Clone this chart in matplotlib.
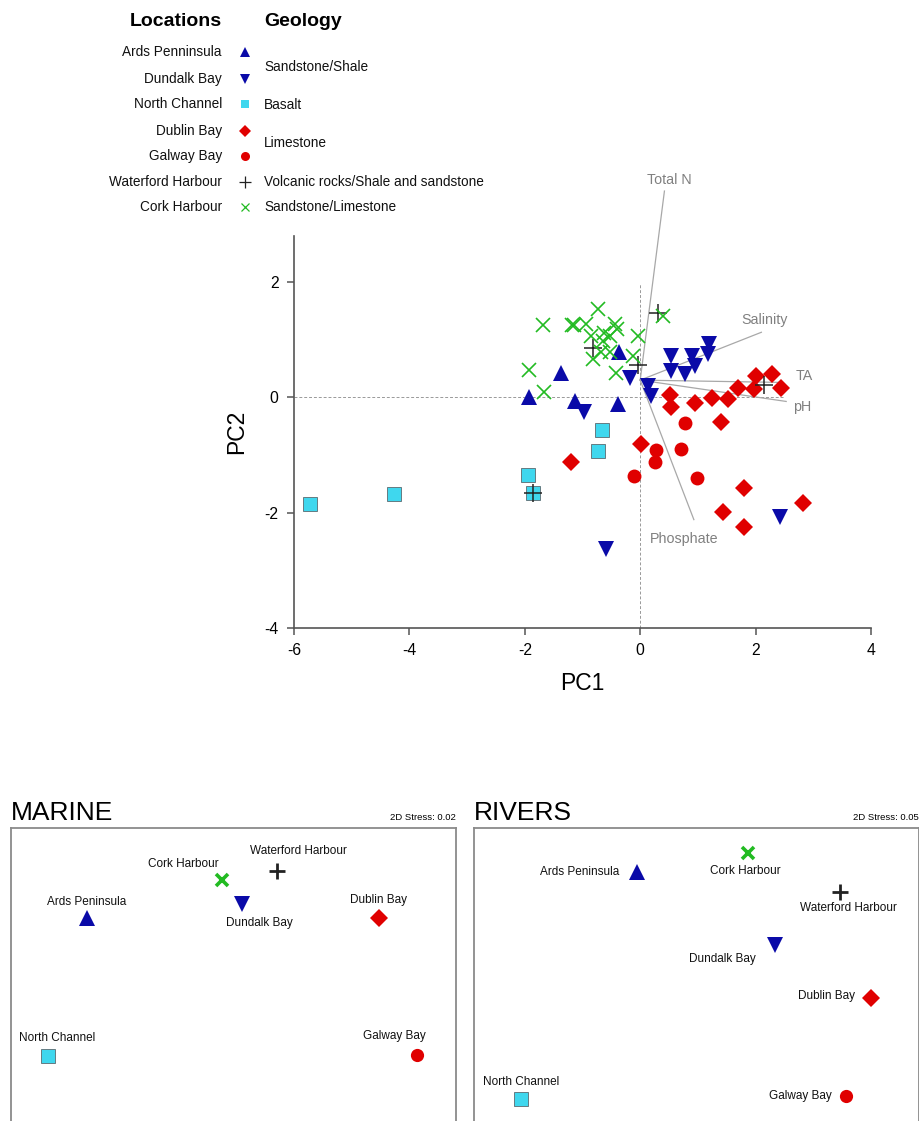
import matplotlib
matplotlib.use("Agg")
import matplotlib.pyplot as plt

plt.rcParams['font.family'] = ['Liberation Sans', 'DejaVu Sans']

# ---------------- data ----------------
locations = ["Ards Penninsula", "Dundalk Bay", "North Channel", "Dublin Bay",
             "Galway Bay", "Waterford Harbour", "Cork Harbour"]
geology = ["Sandstone/Shale", "Basalt", "Limestone",
           "Volcanic rocks/Shale and sandstone", "Sandstone/Limestone"]

# PCA scores (PC1, PC2)
ards_pc1 = [-1.92, -1.38, -1.13, -0.38, -0.36]
ards_pc2 = [0.00, 0.42, -0.06, -0.12, 0.79]

dundalk_pc1 = [-0.98, -0.17, 0.13, 0.18, 0.54, 0.53, 0.77, 0.90, 0.95, 1.20, 1.18, -0.59, 2.43]
dundalk_pc2 = [-0.26, 0.33, 0.19, 0.02, 0.72, 0.46, 0.40, 0.71, 0.54, 0.92, 0.75, -2.63, -2.08]

north_pc1 = [-5.72, -4.27, -0.66, -0.73, -1.94, -1.85]
north_pc2 = [-1.85, -1.67, -0.56, -0.93, -1.35, -1.66]

dublin_pc1 = [-1.20, 0.02, 0.51, 0.54, 0.95, 1.24, 1.53, 1.69, 1.98, 2.00, 2.29, 2.44,
              1.40, 1.80, 1.43, 1.80, 2.82]
dublin_pc2 = [-1.12, -0.80, 0.05, -0.16, -0.09, -0.01, -0.03, 0.17, 0.14, 0.37, 0.40, 0.17,
              -0.43, -1.57, -1.98, -2.24, -1.83]

galway_pc1 = [0.77, 0.28, 0.25, 0.71, -0.11, 0.99]
galway_pc2 = [-0.45, -0.92, -1.12, -0.90, -1.37, -1.40]

waterford_pc1 = [-0.82, -0.04, 0.31, 2.15, -1.85]
waterford_pc2 = [0.85, 0.57, 1.46, 0.21, -1.66]

cork_pc1 = [-1.69, -1.18, -1.15, -0.94, -0.73, -0.85, -0.62, -0.43, -0.41, -0.53, -0.65,
            -0.04, -0.82, -0.68, -0.53, -0.13, -0.42, -1.92, -1.67, 0.39]
cork_pc2 = [1.25, 1.26, 1.26, 1.27, 1.54, 1.07, 1.12, 1.27, 1.18, 1.07, 0.98,
            1.07, 0.66, 0.78, 0.78, 0.72, 0.43, 0.47, 0.09, 1.41]

# loading vectors
vec_names = ["Total N", "Salinity", "TA", "pH", "Phosphate"]
vec_origin = (0.0, 0.30)
vec_x = [0.42, 2.10, 2.45, 2.53, 0.93]
vec_y = [3.58, 1.13, 0.26, -0.07, -2.12]
vec_lab_x = [0.50, 2.15, 2.84, 2.80, 0.77]
vec_lab_y = [3.77, 1.34, 0.37, -0.16, -2.45]

# nMDS coordinates
mds_names = ["Ards Peninsula", "Dundalk Bay", "North Channel", "Dublin Bay",
             "Galway Bay", "Waterford Harbour", "Cork Harbour"]
marine_x = [-0.99, 0.06, -1.25, 0.98, 1.24, 0.29, -0.08]
marine_y = [0.51, 0.61, -0.42, 0.51, -0.41, 0.83, 0.77]
rivers_x = [-0.40, 0.53, -1.18, 1.18, 1.01, 0.97, 0.35]
rivers_y = [0.82, 0.33, -0.71, -0.03, -0.69, 0.69, 0.95]
marine_stress = 0.02
rivers_stress = 0.05

# ---------------- styles ----------------
BLUE = "#0A0AA8"
CYAN = "#3FD7EE"
RED = "#E00000"
GREEN = "#22BB22"
BLACK = "#222222"
GREY = "#8A8A8A"

styles = [  # marker, color, size(main), mew, edge
    dict(marker='^', color=BLUE, ms=12, mec=BLUE, mew=0),
    dict(marker='v', color=BLUE, ms=12, mec=BLUE, mew=0),
    dict(marker='s', color=CYAN, ms=10, mec="#5a6a70", mew=0.6),
    dict(marker='D', color=RED, ms=9, mec=RED, mew=0),
    dict(marker='o', color=RED, ms=10, mec=RED, mew=0),
    dict(marker='+', color=BLACK, ms=13, mec=BLACK, mew=1.1),
    dict(marker='x', color=GREEN, ms=10, mec=GREEN, mew=1.2),
]
series = [(ards_pc1, ards_pc2), (dundalk_pc1, dundalk_pc2), (north_pc1, north_pc2),
          (dublin_pc1, dublin_pc2), (galway_pc1, galway_pc2),
          (waterford_pc1, waterford_pc2), (cork_pc1, cork_pc2)]

W, H = 919, 1121
fig = plt.figure(figsize=(W / 100, H / 100), dpi=100)


def px_axes(x0, y0, x1, y1):
    return fig.add_axes([x0 / W, 1 - y1 / H, (x1 - x0) / W, (y1 - y0) / H])


# ---------------- legend ----------------
axl = px_axes(0, 0, 560, 230)
axl.set_xlim(0, 560)
axl.set_ylim(230, 0)
axl.axis('off')
axl.text(222, 22, "Locations", ha='right', va='center', fontsize=14, fontweight='bold')
axl.text(264, 22, "Geology", ha='left', va='center', fontsize=14, fontweight='bold')
row_y = [52, 79, 104, 131, 156, 182, 207]
leg_ms = [7.5, 7.5, 6, 6, 6.5, 8, 6]
leg_mew = [0, 0, 0, 0, 0, 0.9, 0.9]
for name, yy, st, lms, lmew in zip(locations, row_y, styles, leg_ms, leg_mew):
    axl.text(222, yy, name, ha='right', va='center', fontsize=9.8, color='#111111')
    axl.plot([245], [yy], linestyle='none', marker=st['marker'], color=st['color'],
             ms=lms, mew=lmew, mec=st['color'])
geo_y = [67, 105, 143, 182, 207]
for g, yy in zip(geology, geo_y):
    axl.text(264, yy, g, ha='left', va='center', fontsize=9.8, color='#111111')

# ---------------- PCA biplot ----------------
ax = px_axes(294, 236, 871, 628)
ax.set_xlim(-6, 4)
ax.set_ylim(-4, 2.8)
for s in ['top', 'right']:
    ax.spines[s].set_visible(False)
for s in ['left', 'bottom']:
    ax.spines[s].set_color('#555555')
    ax.spines[s].set_linewidth(1.2)
ax.set_xticks([-6, -4, -2, 0, 2, 4])
ax.set_yticks([-4, -2, 0, 2])
ax.set_xticklabels(['-6', '-4', '-2', '0', '2', '4'])
ax.set_yticklabels(['-4', '-2', '0', '2'])
ax.tick_params(direction='out', length=5, width=1.1, color='#555555',
               labelsize=11.3, pad=6)
ax.set_xlabel("PC1", fontsize=16.5, labelpad=10)
ax.set_ylabel("PC2", fontsize=16.5, labelpad=12)

ax.plot([-6, 2.5], [0, 0], linestyle=(0, (3, 2)), color='#999999', lw=0.7, zorder=1)
ax.plot([0, 0], [-4, 1.97], linestyle=(0, (3, 2)), color='#999999', lw=0.7, zorder=1)

for vx, vy, lx, ly, nm in zip(vec_x, vec_y, vec_lab_x, vec_lab_y, vec_names):
    ax.plot([vec_origin[0], vx], [vec_origin[1], vy], color='#A8A8A8', lw=0.9,
            zorder=2, clip_on=False)
    ax.text(lx, ly, nm, ha='center', va='center', fontsize=10.3, color='#808080',
            clip_on=False)

for (xs, ys), st in zip(series, styles):
    ax.plot(xs, ys, linestyle='none', marker=st['marker'], color=st['color'],
            ms=st['ms'], mec=st['mec'], mew=st['mew'], zorder=3, clip_on=False)

# ---------------- nMDS panels ----------------
mds_ms = [11, 11, 9.5, 9.5, 9.5, 11.5, 8.5]
mds_mew = [0, 0, 0.6, 0, 0, 2.0, 2.6]
marine_off = [(0, 16, 'center'), (17, -19, 'center'), (9, 18, 'center'),
              (0, 18, 'center'), (-23, 19, 'center'), (22, 20, 'center'),
              (-38, 16, 'center')]
rivers_off = [(-18, 0, 'right'), (-52, -14, 'center'), (0, 17, 'center'),
              (-16, 2, 'right'), (-14, 0, 'right'), (8, -16, 'center'),
              (-3, -18, 'center')]


def mds_panel(x0, x1, title, stress, xs, ys, offs):
    a = px_axes(x0, 828, x1, 1160)
    a.set_xlim(-1.5, 1.5)
    a.set_ylim(-1.12, 1.12)
    a.set_xticks([])
    a.set_yticks([])
    for s in a.spines.values():
        s.set_color('#8A8A8A')
        s.set_linewidth(1.3)
    a.set_title(title, loc='left', fontsize=19, pad=4)
    a.set_title(f"2D Stress: {stress:.2f}", loc='right', fontsize=6.8, pad=6)
    for i, (xx, yy) in enumerate(zip(xs, ys)):
        st = styles[i]
        a.plot([xx], [yy], linestyle='none', marker=st['marker'], color=st['color'],
               ms=mds_ms[i], mec=st['mec'] if i != 2 else '#5a6a70', mew=mds_mew[i])
        dx, dy, ha = offs[i]
        a.annotate(mds_names[i], (xx, yy), xytext=(dx, dy), textcoords='offset pixels',
                   ha=ha, va='center', fontsize=8.5, color='#111111')
    return a


mds_panel(11, 456, "MARINE", marine_stress, marine_x, marine_y, marine_off)
mds_panel(474, 918.5, "RIVERS", rivers_stress, rivers_x, rivers_y, rivers_off)

fig.savefig("out.png", dpi=100)
